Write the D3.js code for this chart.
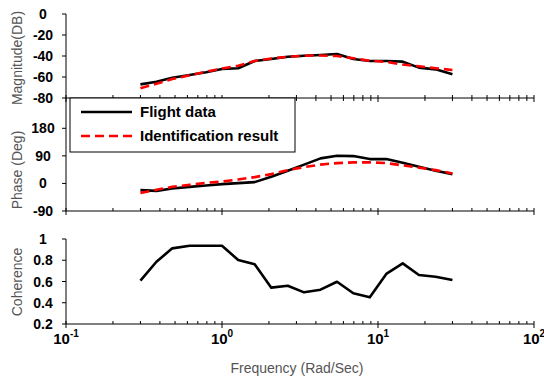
<!DOCTYPE html>
<html>
<head>
<meta charset="utf-8">
<script src="https://cdn.jsdelivr.net/npm/d3@7.9.0/dist/d3.min.js"></script>
<style>
  body { margin: 0; background: #fff; }
  svg { display: block; font-family: "Liberation Sans", Arial, sans-serif; }
  .tick text { font-weight: bold; font-size: 14px; fill: #000; }
  .title { font-size: 14px; fill: #555; }
</style>
</head>
<body>
<svg width="544" height="378"></svg>
<script>
// frequency points (rad/s)
const freq = [0.3, 0.38, 0.48, 0.62, 0.79, 1.0, 1.27, 1.62, 2.07, 2.64, 3.36, 4.28, 5.46, 6.95, 8.86, 11.3, 14.4, 18.3, 23.4, 30];

// magnitude (dB)
const magFlight = [-67, -64.5, -60.7, -58.1, -55.5, -52.4, -51.7, -44.8, -42.9, -40.7, -39.7, -39.0, -38.1, -42.9, -44.8, -44.8, -45.4, -51.1, -52.7, -57.4];
const magIdent = [-70.8, -66.4, -61.9, -58.4, -55, -51.9, -49.2, -44.8, -42.4, -40.7, -39.7, -39.5, -40, -42.2, -44.5, -45.7, -48.1, -49.8, -51.7, -53.3];

// phase (deg)
const phaseFlight = [-21.9, -24.2, -16.4, -11.1, -6.5, -2.3, 1, 4.3, 21.6, 41.2, 61.5, 81.8, 90.3, 89.3, 79.5, 79.5, 67.4, 54.3, 41.2, 30.4];
const phaseIdent = [-30.8, -20.9, -11.1, -4.6, 2, 5.9, 13.1, 20.6, 30.4, 43.5, 53.3, 61.5, 66.4, 68.7, 68.7, 66.4, 58.9, 51.7, 43.5, 32.7];

// coherence
const coherence = [0.608, 0.786, 0.912, 0.937, 0.937, 0.937, 0.802, 0.762, 0.542, 0.560, 0.498, 0.523, 0.598, 0.489, 0.451, 0.671, 0.771, 0.661, 0.645, 0.614];

const magTicks = [0, -20, -40, -60, -80];
const phaseTicks = [180, 90, 0, -90];
const cohTicks = [1, 0.8, 0.6, 0.4, 0.2];
const decades = [0.1, 1, 10, 100];
const decadeExp = ["-1", "0", "1", "2"];
const legendLabels = ["Flight data", "Identification result"];

let svg = d3.select("svg");

let x = d3.scaleLog().domain([0.1, 100]).range([66, 534]);
let minorTicks = x.ticks().filter(v => !decades.includes(v));

// panel definitions
let panels = [
    { title: "Magnitude(DB)", domain: [-80, 0], range: [98, 14], ticks: magTicks, top: 14, titleY: 58,
      series: [magFlight, magIdent] },
    { title: "Phase (Deg)", domain: [-90, 180], range: [211, 128.3], ticks: phaseTicks, top: 98, titleY: 170,
      series: [phaseFlight, phaseIdent] },
    { title: "Coherence", domain: [0.2, 1], range: [324, 239], ticks: cohTicks, top: 239, titleY: 282,
      series: [coherence] }
];

panels.forEach((p, pi) => {
    let y = d3.scaleLinear().domain(p.domain).range(p.range);
    let bottom = p.range[0];
    let g = svg.append("g");

    // y axis line
    g.append("line")
        .attr("x1", 66).attr("x2", 66)
        .attr("y1", p.top).attr("y2", bottom)
        .attr("stroke", "#000");

    // y ticks + labels
    let yt = g.selectAll(".ytick").data(p.ticks).enter().append("g")
        .attr("class", "tick")
        .attr("transform", d => `translate(0,${y(d)})`);
    yt.append("line").attr("x1", 62).attr("x2", 66).attr("stroke", "#000");
    yt.append("text")
        .attr("x", 43).attr("dy", "0.36em")
        .attr("text-anchor", "middle")
        .text(d => d);

    // x axis line
    g.append("line")
        .attr("x1", 66).attr("x2", 534)
        .attr("y1", bottom).attr("y2", bottom)
        .attr("stroke", "#000");

    // minor ticks
    g.selectAll(".minor").data(minorTicks).enter().append("line")
        .attr("x1", d => x(d)).attr("x2", d => x(d))
        .attr("y1", bottom - 3).attr("y2", pi === 0 ? bottom + 3 : bottom)
        .attr("stroke", "#000");
    // major ticks
    g.selectAll(".major").data(decades).enter().append("line")
        .attr("x1", d => x(d)).attr("x2", d => x(d))
        .attr("y1", bottom - 3).attr("y2", bottom + 4)
        .attr("stroke", "#000");

    // title
    svg.append("text")
        .attr("class", "title")
        .attr("transform", `translate(22,${p.titleY}) rotate(-90)`)
        .attr("text-anchor", "middle")
        .text(p.title);

    // series
    let line = d3.line().x((d, i) => x(freq[i])).y(d => y(d));
    p.series.forEach((s, si) => {
        svg.append("path")
            .datum(s)
            .attr("d", line)
            .attr("fill", "none")
            .attr("stroke", si === 0 ? "#000" : "#f00")
            .attr("stroke-width", 2.6)
            .attr("stroke-dasharray", si === 0 ? null : "9,5")
            .attr("stroke-linejoin", "round");
    });
});

// decade labels under coherence axis
let xl = svg.selectAll(".xlab").data(decades).enter().append("text")
    .attr("x", d => x(d))
    .attr("y", 344)
    .attr("text-anchor", "middle")
    .style("font-weight", "bold")
    .style("font-size", "15px");
xl.append("tspan").text("10");
xl.append("tspan")
    .attr("dy", -7)
    .style("font-size", "10px")
    .text((d, i) => decadeExp[i]);

// x title
svg.append("text")
    .attr("class", "title")
    .attr("x", 297).attr("y", 373)
    .attr("text-anchor", "middle")
    .text("Frequency (Rad/Sec)");

// legend
let lg = svg.append("g");
lg.append("rect")
    .attr("x", 70).attr("y", 98)
    .attr("width", 225).attr("height", 54)
    .attr("fill", "#fff").attr("stroke", "#000");
legendLabels.forEach((lab, i) => {
    let ly = 112 + i * 24;
    lg.append("line")
        .attr("x1", 81).attr("x2", 132)
        .attr("y1", ly).attr("y2", ly)
        .attr("stroke", i === 0 ? "#000" : "#f00")
        .attr("stroke-width", 2.6)
        .attr("stroke-dasharray", i === 0 ? null : "9,5");
    lg.append("text")
        .attr("x", 140).attr("y", ly + 5)
        .style("font-weight", "bold")
        .style("font-size", "15px")
        .text(lab);
});
</script>
</body>
</html>
